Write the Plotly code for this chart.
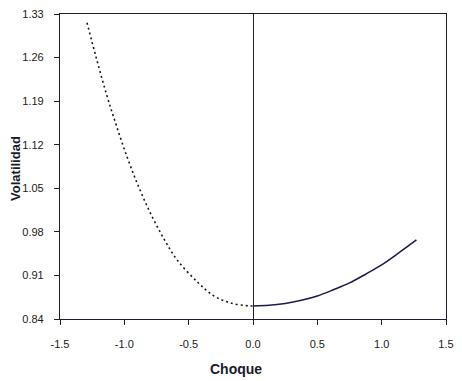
import plotly.graph_objects as go

# Data (news impact curve)
shock_neg = [-1.29, -1.22, -1.14, -1.07, -0.98, -0.89, -0.79, -0.69, -0.59, -0.43, -0.31, -0.18, -0.03, 0.0]
vol_neg = [1.316, 1.261, 1.202, 1.156, 1.101, 1.053, 1.007, 0.968, 0.935, 0.899, 0.878, 0.866, 0.861, 0.861]

shock_pos = [0.0, 0.125, 0.25, 0.375, 0.5, 0.625, 0.75, 0.875, 1.0, 1.125, 1.27]
vol_pos = [0.861, 0.862, 0.865, 0.870, 0.877, 0.887, 0.898, 0.912, 0.927, 0.945, 0.967]

x_ticks = [-1.5, -1.0, -0.5, 0.0, 0.5, 1.0, 1.5]
x_tick_labels = ["-1.5", "-1.0", "-0.5", "0.0", "0.5", "1.0", "1.5"]
y_ticks = [0.84, 0.91, 0.98, 1.05, 1.12, 1.19, 1.26, 1.33]
y_tick_labels = ["0.84", "0.91", "0.98", "1.05", "1.12", "1.19", "1.26", "1.33"]

fig = go.Figure()
fig.add_trace(go.Scatter(x=shock_neg, y=vol_neg, mode="lines", line_shape="spline",
                         line=dict(color="#1a1a1a", width=1.6, dash="2px,3px"), showlegend=False))
fig.add_trace(go.Scatter(x=shock_pos, y=vol_pos, mode="lines", line_shape="spline",
                         line=dict(color="#1c1c50", width=1.6), showlegend=False))

font_ticks = dict(family="Liberation Sans Narrow, Liberation Sans, Arial, sans-serif", size=11, color="#1a1a1a")

fig.update_layout(
    width=462, height=381,
    margin=dict(l=60, r=8, t=14, b=62),
    paper_bgcolor="white", plot_bgcolor="white",
    xaxis=dict(range=[-1.5, 1.5], tickvals=x_ticks, ticktext=x_tick_labels,
               showgrid=False, zeroline=True, zerolinecolor="#222", zerolinewidth=1,
               showline=True, linecolor="#1c1c3c", linewidth=1.2, mirror=True,
               ticks="outside", ticklen=5, tickcolor="#222", tickfont=font_ticks,
               ticklabelstandoff=10),
    yaxis=dict(range=[0.84, 1.33], tickvals=y_ticks, ticktext=y_tick_labels,
               showgrid=False, zeroline=False,
               showline=True, linecolor="#1c1c3c", linewidth=1.2, mirror=True,
               ticks="outside", ticklen=5, tickcolor="#222", tickfont=font_ticks,
               ticklabelstandoff=8),
    annotations=[
        dict(text="<b>Volatilidad</b>", xref="paper", yref="paper", x=-0.1168, y=0.495,
             textangle=-90, showarrow=False, xanchor="center", yanchor="middle",
             font=dict(family="Liberation Sans, Arial, sans-serif", size=13, color="#1a1a2a")),
        dict(text="<b>Choque</b>", xref="paper", yref="paper", x=0.457, y=-0.164,
             showarrow=False, xanchor="center", yanchor="middle",
             font=dict(family="Liberation Sans Narrow, Liberation Sans, Arial, sans-serif", size=14, color="#1a1a2a")),
    ],
)

fig.write_html("out.html")
